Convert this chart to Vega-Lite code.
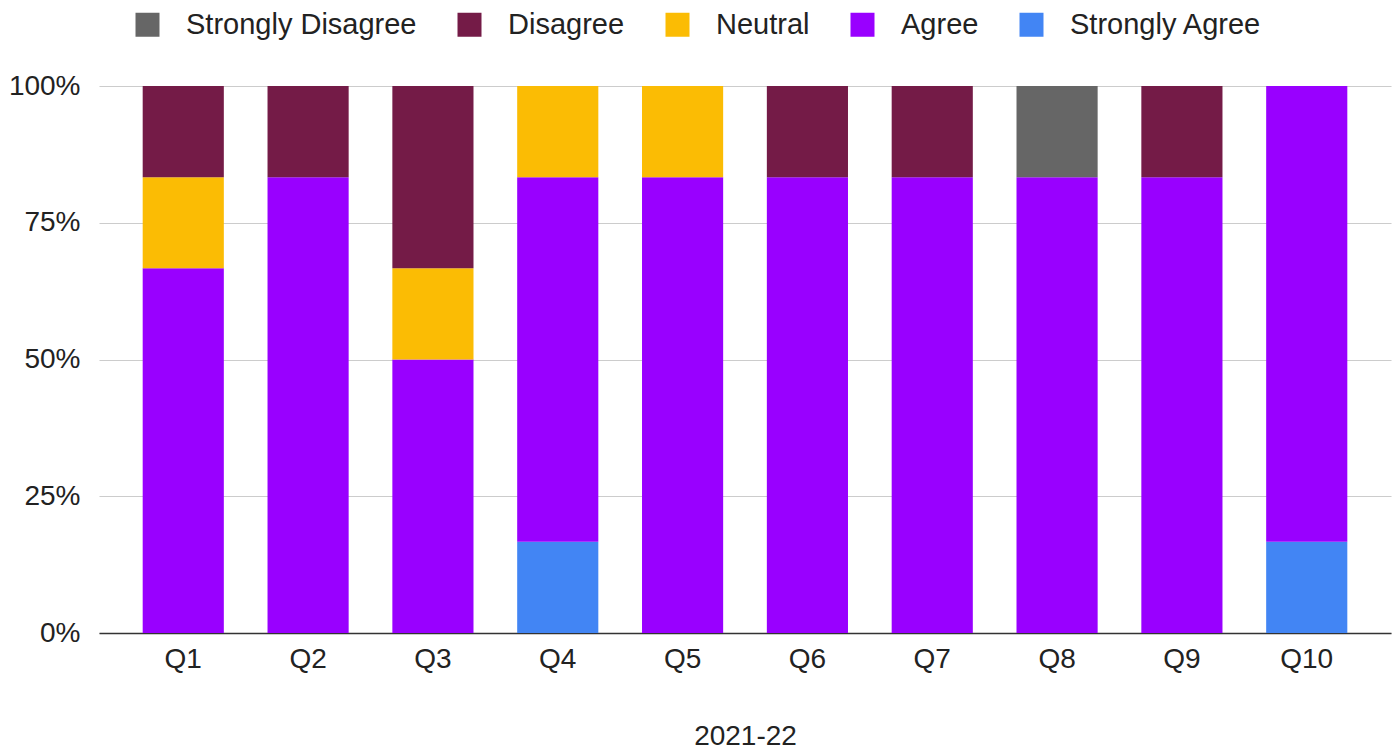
{
  "$schema": "https://vega.github.io/schema/vega-lite/v6.json",
  "width": 1292,
  "height": 547,
  "autosize": "none",
  "padding": {"left": 99, "top": 86, "right": 8, "bottom": 120},
  "background": "white",
  "config": {
    "font": "Liberation Sans",
    "view": {"stroke": null}
  },
  "data": {
    "values": [
      {"q": "Q1", "response": "Agree", "k": 4, "n": 4},
      {"q": "Q1", "response": "Neutral", "k": 3, "n": 1},
      {"q": "Q1", "response": "Disagree", "k": 2, "n": 1},
      {"q": "Q2", "response": "Agree", "k": 4, "n": 5},
      {"q": "Q2", "response": "Disagree", "k": 2, "n": 1},
      {"q": "Q3", "response": "Agree", "k": 4, "n": 3},
      {"q": "Q3", "response": "Neutral", "k": 3, "n": 1},
      {"q": "Q3", "response": "Disagree", "k": 2, "n": 2},
      {"q": "Q4", "response": "Strongly Agree", "k": 5, "n": 1},
      {"q": "Q4", "response": "Agree", "k": 4, "n": 4},
      {"q": "Q4", "response": "Neutral", "k": 3, "n": 1},
      {"q": "Q5", "response": "Agree", "k": 4, "n": 5},
      {"q": "Q5", "response": "Neutral", "k": 3, "n": 1},
      {"q": "Q6", "response": "Agree", "k": 4, "n": 5},
      {"q": "Q6", "response": "Disagree", "k": 2, "n": 1},
      {"q": "Q7", "response": "Agree", "k": 4, "n": 5},
      {"q": "Q7", "response": "Disagree", "k": 2, "n": 1},
      {"q": "Q8", "response": "Agree", "k": 4, "n": 5},
      {"q": "Q8", "response": "Strongly Disagree", "k": 1, "n": 1},
      {"q": "Q9", "response": "Agree", "k": 4, "n": 5},
      {"q": "Q9", "response": "Disagree", "k": 2, "n": 1},
      {"q": "Q10", "response": "Strongly Agree", "k": 5, "n": 1},
      {"q": "Q10", "response": "Agree", "k": 4, "n": 5}
    ]
  },
  "mark": {"type": "bar"},
  "encoding": {
    "x": {
      "field": "q",
      "type": "nominal",
      "sort": ["Q1", "Q2", "Q3", "Q4", "Q5", "Q6", "Q7", "Q8", "Q9", "Q10"],
      "scale": {"paddingInner": 0.35, "paddingOuter": 0.35},
      "axis": {
        "title": "2021-22",
        "titleFontSize": 28,
        "titleFontWeight": "normal",
        "titleColor": "#222222",
        "titlePadding": 49,
        "labelAngle": 0,
        "labelFontSize": 28,
        "labelColor": "#222222",
        "labelPadding": 12,
        "ticks": false,
        "domainColor": "#333333",
        "domainWidth": 1.5,
        "grid": false
      }
    },
    "y": {
      "field": "n",
      "type": "quantitative",
      "stack": "normalize",
      "scale": {"domain": [0, 1]},
      "axis": {
        "title": null,
        "format": ".0%",
        "values": [0, 0.25, 0.5, 0.75, 1],
        "labelFontSize": 28,
        "labelColor": "#222222",
        "labelPadding": 19,
        "ticks": false,
        "domain": false,
        "grid": true,
        "gridColor": "#cccccc",
        "gridWidth": 1.2
      }
    },
    "color": {
      "field": "response",
      "type": "nominal",
      "scale": {
        "domain": ["Strongly Disagree", "Disagree", "Neutral", "Agree", "Strongly Agree"],
        "range": ["#666666", "#741b47", "#fbbc04", "#9900ff", "#4285f4"]
      },
      "legend": {
        "title": null,
        "orient": "none",
        "direction": "horizontal",
        "legendX": 34,
        "legendY": -76,
        "symbolType": "square",
        "symbolSize": 576,
        "symbolStrokeWidth": 0,
        "symbolOpacity": 1,
        "labelFontSize": 29,
        "labelLimit": 0,
        "labelColor": "#222222",
        "labelOffset": 24,
        "columnPadding": 38
      }
    },
    "order": {"field": "k", "sort": "descending"}
  }
}
